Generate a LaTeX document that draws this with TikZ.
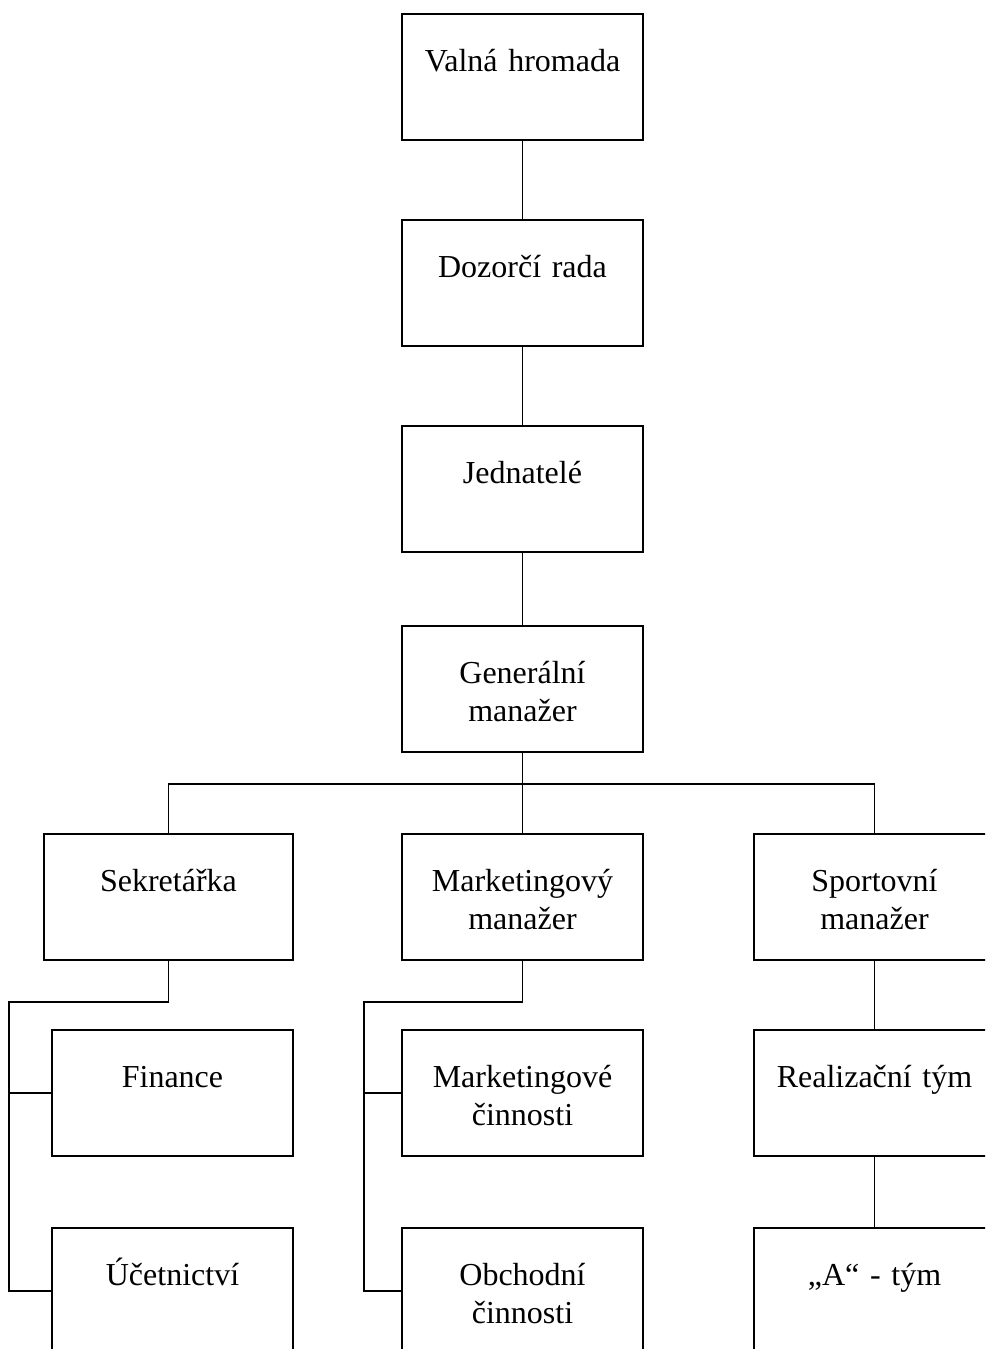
\documentclass[tikz,border=0pt]{standalone}
\usepackage{fontspec}
\setmainfont{Liberation Serif}
\tikzstyle{orgbox}=[draw,line width=1.3pt,inner sep=0pt,text width=180.75pt,align=center,text height=42.75pt,text depth=51.75pt,font=\fontsize{24}{28.5}\selectfont]
\tikzstyle{orgline}=[line width=1.3pt]
\begin{document}
\begin{tikzpicture}[x=0.75pt,y=-0.75pt]
  \path[use as bounding box] (0,0) rectangle (985,1349);
  \clip (0,0) rectangle (985,1349);
  % top chain
  \node[orgbox] (valna) at (522.5,77) {Valná hromada};
  \node[orgbox] (dozorci) at (522.5,283) {Dozorčí rada};
  \node[orgbox] (jednatele) at (522.5,489) {Jednatelé};
  \node[orgbox] (general) at (522.5,689) {Generální\\manažer};
  % second level
  \node[orgbox,text width=186.75pt] (sekretarka) at (168.5,897) {Sekretářka};
  \node[orgbox] (marketing) at (522.5,897) {Marketingový\\manažer};
  \node[orgbox] (sport) at (874.5,897) {Sportovní\\manažer};
  % third level
  \node[orgbox] (finance) at (172.5,1093) {Finance};
  \node[orgbox] (ucetnictvi) at (172.5,1291) {Účetnictví};
  \node[orgbox] (mkcinnosti) at (522.5,1093) {Marketingové\\činnosti};
  \node[orgbox] (obchod) at (522.5,1291) {Obchodní\\činnosti};
  \node[orgbox] (realizace) at (874.5,1093) {Realizační tým};
  \node[orgbox] (atym) at (874.5,1291) {„A“ - tým};
  \coordinate (split) at (522.5,784);
  \coordinate (sekbus) at (9,1002);
  \coordinate (mkbus) at (364,1002);
  \draw[orgline] (valna) -- (dozorci) -- (jednatele) -- (general) -- (marketing);
  \draw[orgline] (sekretarka.north) |- (split) -| (sport.north);
  \draw[orgline] (sekretarka.south) |- (sekbus) |- (finance.west);
  \draw[orgline] (sekbus) |- (ucetnictvi.west);
  \draw[orgline] (marketing.south) |- (mkbus) |- (mkcinnosti.west);
  \draw[orgline] (mkbus) |- (obchod.west);
  \draw[orgline] (sport) -- (realizace) -- (atym);
\end{tikzpicture}
\end{document}
